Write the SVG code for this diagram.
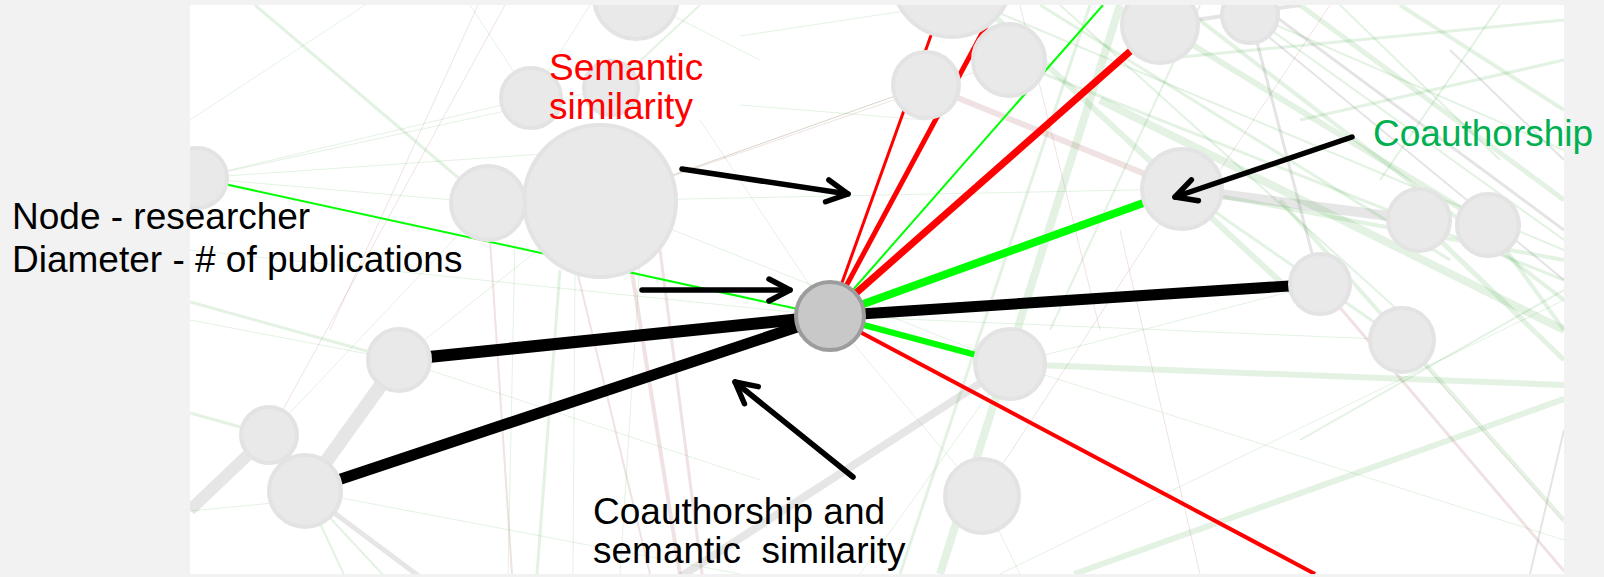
<svg xmlns="http://www.w3.org/2000/svg" width="1604" height="577" viewBox="0 0 1604 577">
<defs>
<style>
text{font-family:"Liberation Sans",Arial,sans-serif;font-size:37px;fill:#000}
.g{stroke:#3aa03a;stroke-opacity:.14;fill:none}
.p{stroke:#a04848;stroke-opacity:.16;fill:none}
.k{stroke:#6a6a6a;stroke-opacity:.18;fill:none}
.lg{stroke:#e6e6e6;fill:none}
.node circle{fill:#e9e9e9;stroke:#e3e3e3;stroke-width:4}
#n0 circle{fill:#c8c8c8;stroke:#9c9c9c;stroke-width:4}
.arrow{stroke:#000;stroke-width:5.5;fill:none;stroke-linecap:round;marker-end:url(#ah)}
</style>
<clipPath id="panel"><rect x="190" y="5" width="1374" height="569"/></clipPath>
<marker id="ah" viewBox="-26 -15 30 30" refX="0" refY="0" markerWidth="30" markerHeight="30" markerUnits="userSpaceOnUse" orient="auto"><path d="M-21,-11 L0,0 L-21,11" fill="none" stroke="#000" stroke-width="5.5" stroke-linecap="round" stroke-linejoin="round"/></marker>
</defs>
<rect width="1604" height="577" fill="#f2f2f2"/>
<rect x="190" y="5" width="1374" height="569" fill="#fff"/>
<g clip-path="url(#panel)">
<g id="background-edges">
<line class="lg" x1="399" y1="360" x2="305" y2="491" stroke-width="14"/>
<line class="lg" x1="269" y1="435" x2="190" y2="510" stroke-width="12"/>
<line class="lg" x1="305" y1="491" x2="420" y2="577" stroke-width="5"/>
<line class="lg" x1="1010" y1="364" x2="680" y2="577" stroke-width="8"/>
<line class="lg" x1="1182" y1="189" x2="1419" y2="220" stroke-width="10"/>
<line class="g" x1="255" y1="5" x2="488" y2="203" stroke-width="3"/>
<line class="g" x1="365" y1="5" x2="190" y2="120" stroke-width="1"/>
<line class="g" x1="197" y1="178" x2="531" y2="98" stroke-width="1"/>
<line class="g" x1="197" y1="178" x2="611" y2="88" stroke-width="1"/>
<line class="g" x1="197" y1="178" x2="488" y2="203" stroke-width="1"/>
<line class="g" x1="197" y1="178" x2="600" y2="150" stroke-width="1"/>
<line class="g" x1="190" y1="302" x2="399" y2="360" stroke-width="3"/>
<line class="g" x1="190" y1="320" x2="399" y2="360" stroke-width="1"/>
<line class="g" x1="190" y1="413" x2="269" y2="435" stroke-width="3"/>
<line class="g" x1="190" y1="511" x2="305" y2="500" stroke-width="1"/>
<line class="g" x1="305" y1="491" x2="345" y2="577" stroke-width="2"/>
<line class="g" x1="305" y1="491" x2="385" y2="577" stroke-width="2"/>
<line class="g" x1="305" y1="491" x2="740" y2="574" stroke-width="1"/>
<line class="g" x1="399" y1="360" x2="760" y2="480" stroke-width="1"/>
<line class="g" x1="190" y1="250" x2="830" y2="316" stroke-width="1"/>
<line class="g" x1="399" y1="360" x2="600" y2="201" stroke-width="1"/>
<line class="g" x1="269" y1="435" x2="488" y2="203" stroke-width="1"/>
<line class="p" x1="490" y1="240" x2="512" y2="574" stroke-width="2"/>
<line class="g" x1="515" y1="240" x2="508" y2="574" stroke-width="1"/>
<line class="g" x1="560" y1="270" x2="537" y2="574" stroke-width="3"/>
<line class="g" x1="575" y1="270" x2="573" y2="574" stroke-width="1"/>
<line class="p" x1="560" y1="200" x2="650" y2="574" stroke-width="2"/>
<line class="p" x1="630" y1="260" x2="680" y2="574" stroke-width="4"/>
<line class="p" x1="660" y1="250" x2="702" y2="574" stroke-width="3"/>
<line class="g" x1="640" y1="260" x2="620" y2="574" stroke-width="1"/>
<line class="p" x1="505" y1="5" x2="269" y2="435" stroke-width="1"/>
<line class="p" x1="478" y1="5" x2="330" y2="330" stroke-width="1"/>
<line class="g" x1="531" y1="98" x2="470" y2="5" stroke-width="1"/>
<line class="g" x1="531" y1="98" x2="590" y2="5" stroke-width="1"/>
<line class="g" x1="740" y1="36" x2="944" y2="5" stroke-width="1"/>
<line class="g" x1="740" y1="105" x2="926" y2="120" stroke-width="1"/>
<line class="g" x1="600" y1="201" x2="926" y2="85" stroke-width="1"/>
<line class="g" x1="600" y1="201" x2="1010" y2="364" stroke-width="1"/>
<line class="g" x1="488" y1="203" x2="1182" y2="189" stroke-width="1"/>
<line class="g" x1="700" y1="120" x2="830" y2="316" stroke-width="1"/>
<line class="g" x1="611" y1="88" x2="700" y2="5" stroke-width="2"/>
<line class="g" x1="636" y1="-3" x2="760" y2="60" stroke-width="1"/>
<line class="p" x1="600" y1="201" x2="926" y2="85" stroke-width="1"/>
<line class="p" x1="926" y1="85" x2="1182" y2="189" stroke-width="6"/>
<line class="p" x1="600" y1="201" x2="1010" y2="60" stroke-width="1"/>
<line class="g" x1="952" y1="-23" x2="1300" y2="300" stroke-width="6"/>
<line class="g" x1="1040" y1="5" x2="1450" y2="260" stroke-width="3"/>
<line class="g" x1="1100" y1="100" x2="1564" y2="330" stroke-width="8"/>
<line class="g" x1="980" y1="5" x2="1564" y2="250" stroke-width="2"/>
<line class="g" x1="1180" y1="5" x2="1564" y2="300" stroke-width="4"/>
<line class="g" x1="1230" y1="5" x2="1564" y2="150" stroke-width="2"/>
<line class="g" x1="1300" y1="5" x2="1564" y2="200" stroke-width="5"/>
<line class="g" x1="1340" y1="5" x2="1500" y2="160" stroke-width="2"/>
<line class="g" x1="1400" y1="5" x2="1564" y2="110" stroke-width="4"/>
<line class="g" x1="1564" y1="60" x2="1300" y2="120" stroke-width="3"/>
<line class="g" x1="1150" y1="60" x2="1564" y2="20" stroke-width="3"/>
<line class="g" x1="1050" y1="330" x2="1200" y2="5" stroke-width="2"/>
<line class="g" x1="1120" y1="5" x2="940" y2="574" stroke-width="8"/>
<line class="g" x1="1090" y1="5" x2="900" y2="574" stroke-width="3"/>
<line class="g" x1="1009" y1="60" x2="1564" y2="280" stroke-width="3"/>
<line class="g" x1="1160" y1="25" x2="1488" y2="225" stroke-width="6"/>
<line class="g" x1="1182" y1="189" x2="1564" y2="260" stroke-width="4"/>
<line class="g" x1="1182" y1="189" x2="1400" y2="340" stroke-width="3"/>
<line class="g" x1="1250" y1="15" x2="1564" y2="240" stroke-width="2"/>
<line class="g" x1="1060" y1="5" x2="1420" y2="330" stroke-width="2"/>
<line class="g" x1="1500" y1="5" x2="1380" y2="180" stroke-width="2"/>
<line class="g" x1="1074" y1="574" x2="1564" y2="399" stroke-width="6"/>
<line class="g" x1="1010" y1="364" x2="1564" y2="385" stroke-width="6"/>
<line class="g" x1="1010" y1="364" x2="1564" y2="540" stroke-width="1"/>
<line class="g" x1="1280" y1="200" x2="1564" y2="520" stroke-width="4"/>
<line class="g" x1="1300" y1="440" x2="1564" y2="290" stroke-width="2"/>
<line class="g" x1="1000" y1="574" x2="1564" y2="300" stroke-width="1"/>
<line class="g" x1="1419" y1="220" x2="1564" y2="360" stroke-width="5"/>
<line class="g" x1="1488" y1="225" x2="1564" y2="330" stroke-width="4"/>
<line class="g" x1="1010" y1="364" x2="860" y2="574" stroke-width="1"/>
<line class="g" x1="982" y1="496" x2="1020" y2="574" stroke-width="1"/>
<line class="g" x1="982" y1="496" x2="830" y2="316" stroke-width="1"/>
<line class="g" x1="1010" y1="364" x2="1320" y2="284" stroke-width="1"/>
<line class="g" x1="830" y1="316" x2="1402" y2="340" stroke-width="1"/>
<line class="k" x1="1230" y1="5" x2="1564" y2="280" stroke-width="2"/>
<line class="k" x1="1260" y1="5" x2="1564" y2="230" stroke-width="3"/>
<line class="k" x1="1450" y1="50" x2="1564" y2="160" stroke-width="2"/>
<line class="k" x1="1320" y1="284" x2="1250" y2="15" stroke-width="3"/>
<line class="k" x1="1564" y1="430" x2="1530" y2="574" stroke-width="2"/>
<line class="k" x1="1160" y1="25" x2="1300" y2="5" stroke-width="4"/>
<line class="p" x1="1320" y1="284" x2="1564" y2="571" stroke-width="3"/>
<line class="p" x1="1402" y1="340" x2="1564" y2="523" stroke-width="1"/>
<line class="p" x1="1120" y1="230" x2="1200" y2="574" stroke-width="1"/>
<line class="p" x1="982" y1="496" x2="1182" y2="189" stroke-width="1"/>
<line class="p" x1="1330" y1="5" x2="1200" y2="200" stroke-width="1"/>
<line class="p" x1="1020" y1="5" x2="1100" y2="330" stroke-width="1"/>
</g>
<g id="connectors">
<line x1="830" y1="316" x2="197" y2="178" stroke="#00ff00" stroke-width="2"/>
<line x1="830" y1="316" x2="1103" y2="5" stroke="#00ff00" stroke-width="2"/>
<line x1="830" y1="316" x2="952" y2="-23" stroke="#ff0000" stroke-width="3"/>
<line x1="830" y1="316" x2="1000" y2="0" stroke="#ff0000" stroke-width="5"/>
<line x1="830" y1="316" x2="1160" y2="25" stroke="#ff0000" stroke-width="7"/>
<line x1="830" y1="316" x2="1315" y2="574" stroke="#ff0000" stroke-width="4"/>
<line x1="830" y1="316" x2="1182" y2="189" stroke="#00ff00" stroke-width="8"/>
<line x1="830" y1="316" x2="1010" y2="364" stroke="#00ff00" stroke-width="6"/>
<line x1="830" y1="316" x2="1320" y2="284" stroke="#000" stroke-width="11"/>
<line x1="830" y1="316" x2="399" y2="360" stroke="#000" stroke-width="12"/>
<line x1="830" y1="316" x2="305" y2="491" stroke="#000" stroke-width="11"/>
</g>
<g id="nodes">
<g id="n1" class="node"><circle cx="600" cy="201" r="76"/></g>
<g id="n2" class="node"><circle cx="488" cy="203" r="37"/></g>
<g id="n3" class="node"><circle cx="531" cy="98" r="30"/></g>
<g id="n4" class="node"><circle cx="611" cy="88" r="27"/></g>
<g id="n5" class="node"><circle cx="636" cy="-3" r="42"/></g>
<g id="n6" class="node"><circle cx="952" cy="-23" r="60"/></g>
<g id="n7" class="node"><circle cx="926" cy="85" r="33"/></g>
<g id="n8" class="node"><circle cx="1009" cy="60" r="36"/></g>
<g id="n9" class="node"><circle cx="1160" cy="25" r="38"/></g>
<g id="n10" class="node"><circle cx="1250" cy="15" r="28"/></g>
<g id="n11" class="node"><circle cx="1182" cy="189" r="40"/></g>
<g id="n12" class="node"><circle cx="1320" cy="284" r="30"/></g>
<g id="n13" class="node"><circle cx="1419" cy="220" r="31"/></g>
<g id="n14" class="node"><circle cx="1488" cy="225" r="31"/></g>
<g id="n15" class="node"><circle cx="1402" cy="340" r="32"/></g>
<g id="n16" class="node"><circle cx="1010" cy="364" r="35"/></g>
<g id="n17" class="node"><circle cx="982" cy="496" r="37"/></g>
<g id="n18" class="node"><circle cx="399" cy="360" r="31"/></g>
<g id="n19" class="node"><circle cx="269" cy="435" r="28"/></g>
<g id="n20" class="node"><circle cx="305" cy="491" r="36"/></g>
<g id="n21" class="node"><circle cx="197" cy="178" r="30"/></g>
<g id="n0" class="node"><circle cx="830" cy="316" r="34"/></g>
</g>
</g>
<g id="annotations">
<line class="arrow" x1="682" y1="169" x2="848" y2="194"/>
<line class="arrow" x1="642" y1="290" x2="790" y2="290"/>
<line class="arrow" x1="1352" y1="137" x2="1175" y2="197"/>
<line class="arrow" x1="853" y1="477" x2="735" y2="382"/>
</g>
<g id="labels">
<text x="12" y="229">Node - researcher</text>
<text x="12" y="272">Diameter - # of publications</text>
<text x="549" y="80" style="fill:#ff0000">Semantic</text>
<text x="549" y="119" style="fill:#ff0000">similarity</text>
<text x="1373" y="146" style="fill:#00b050">Coauthorship</text>
<text x="593" y="524">Coauthorship and</text>
<text x="593" y="563" xml:space="preserve">semantic  similarity</text>
</g>
</svg>
